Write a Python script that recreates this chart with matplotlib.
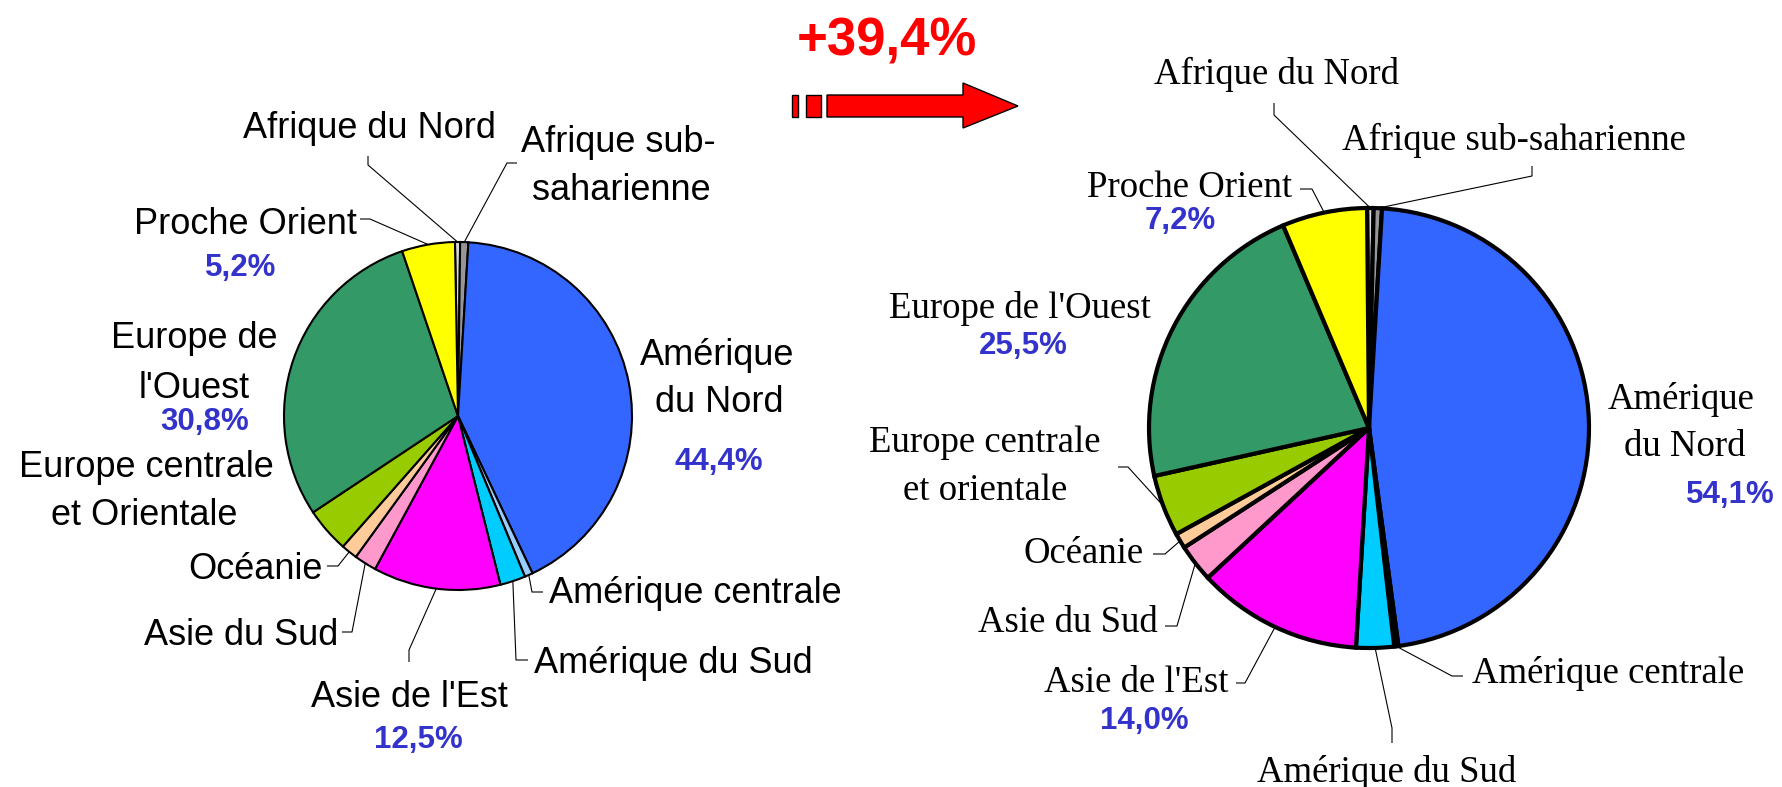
import matplotlib
matplotlib.use("Agg")
import matplotlib.pyplot as plt
import numpy as np
from matplotlib.patches import Rectangle, Polygon

# slices, clockwise from 12 o'clock
regions = ["Afrique du Nord", "Afrique sub-saharienne", "Amérique du Nord",
           "Amérique centrale", "Amérique du Sud", "Asie de l'Est", "Asie du Sud",
           "Océanie", "Europe centrale et orientale", "Europe de l'Ouest", "Proche Orient"]
colors = ["#D9D9D9", "#969696", "#3366FF", "#99CCFF", "#00CCFF", "#FF00FF",
          "#FF99CC", "#FFCC99", "#99CC00", "#339966", "#FFFF00"]
before = [0.5, 0.8, 44.4, 0.8, 2.5, 12.5, 2.2, 1.6, 4.4, 30.8, 5.2]
after = [0.55, 0.7, 54.1, 0.35, 3.2, 14.0, 3.2, 1.3, 5.2, 25.5, 7.2]
pct_before = {2: "44,4%", 5: "12,5%", 9: "30,8%", 10: "5,2%"}
pct_after = {2: "54,1%", 5: "14,0%", 9: "25,5%", 10: "7,2%"}
growth = "+39,4%"

W, H = 1782, 787
BLUE = "#3333CC"


def py(y):
    # pixel row (from top) -> data y
    return H - y


fig = plt.figure(figsize=(W / 100, H / 100), dpi=100)
ax = fig.add_axes([0, 0, 1, 1])

wl, _ = ax.pie(before, colors=colors, startangle=91, counterclock=False,
               center=(458, py(416)), radius=174,
               wedgeprops=dict(edgecolor="black", linewidth=1.5))
wr, _ = ax.pie(after, colors=colors, startangle=90.5, counterclock=False,
               center=(1369, py(428)), radius=220,
               wedgeprops=dict(edgecolor="black", linewidth=3))

ax.set_xlim(0, W)
ax.set_ylim(0, H)
ax.axis("off")


def leader(wedge, pts):
    th = np.deg2rad((wedge.theta1 + wedge.theta2) / 2)
    cx, cy = wedge.center
    xs = [p[0] for p in pts] + [cx + wedge.r * np.cos(th)]
    ys = [py(p[1]) for p in pts] + [cy + wedge.r * np.sin(th)]
    ax.plot(xs, ys, color="black", lw=0.8, solid_capstyle="butt")


def label(s, x, y, ha="center", serif=False):
    fam = "Liberation Serif" if serif else "Liberation Sans"
    ax.text(x, py(y), s, ha=ha, va="baseline", family=fam,
            fontsize=26.5 if serif else 26, color="black")


def pct(s, x, y):
    ax.text(x, py(y), s, ha="center", va="baseline", family="Liberation Sans",
            fontweight="bold", fontsize=22.5, color=BLUE)


# left pie labels
label("Afrique du Nord", 369, 138)
leader(wl[0], [(368, 156), (368, 165)])
label("Afrique sub-", 618, 152)
label("saharienne", 621, 200)
leader(wl[1], [(517, 163), (507, 163)])
label("Amérique", 717, 365)
label("du Nord", 719, 412)
pct(pct_before[2], 719, 470)
label("Amérique centrale", 549, 603, ha="left")
leader(wl[3], [(543, 592), (532, 592)])
label("Amérique du Sud", 534, 673, ha="left")
leader(wl[4], [(528, 660), (516, 660)])
label("Asie de l'Est", 409, 707)
pct(pct_before[5], 418, 748)
leader(wl[5], [(409, 662), (409, 650)])
label("Asie du Sud", 338, 645, ha="right")
leader(wl[6], [(342, 632), (352, 632)])
label("Océanie", 323, 579, ha="right")
leader(wl[7], [(327, 566), (338, 566)])
label("Europe centrale", 146, 477)
label("et Orientale", 144, 525)
label("Europe de", 194, 348)
label("l'Ouest", 194, 398)
pct(pct_before[9], 205, 430)
label("Proche Orient", 357, 234, ha="right")
pct(pct_before[10], 241, 276)
leader(wl[10], [(360, 219), (370, 219)])

# right pie labels
label("Afrique du Nord", 1276, 84, serif=True)
leader(wr[0], [(1274, 103), (1274, 115)])
label("Afrique sub-saharienne", 1342, 150, ha="left", serif=True)
leader(wr[1], [(1532, 166), (1532, 176)])
label("Amérique", 1681, 409, serif=True)
label("du Nord", 1685, 456, serif=True)
pct(pct_after[2], 1730, 503)
label("Amérique centrale", 1472, 683, ha="left", serif=True)
leader(wr[3], [(1463, 676), (1452, 676)])
label("Amérique du Sud", 1257, 782, ha="left", serif=True)
leader(wr[4], [(1392, 743), (1392, 728)])
label("Asie de l'Est", 1229, 692, ha="right", serif=True)
pct(pct_after[5], 1144, 729)
leader(wr[5], [(1236, 683), (1245, 683)])
label("Asie du Sud", 1158, 632, ha="right", serif=True)
leader(wr[6], [(1165, 626), (1177, 626)])
label("Océanie", 1144, 563, ha="right", serif=True)
leader(wr[7], [(1153, 554), (1165, 554)])
label("Europe centrale", 985, 452, serif=True)
label("et orientale", 985, 500, serif=True)
leader(wr[8], [(1118, 467), (1128, 467)])
label("Europe de l'Ouest", 1020, 318, serif=True)
pct(pct_after[9], 1023, 354)
label("Proche Orient", 1292, 197, ha="right", serif=True)
pct(pct_after[10], 1180, 229)
leader(wr[10], [(1300, 189), (1312, 189)])

# growth arrow
ax.text(887, py(55), growth, ha="center", va="baseline", family="Liberation Sans",
        fontweight="bold", fontsize=38, color="#FF0000")
for x0, x1 in [(792, 798), (806, 821)]:
    ax.add_patch(Rectangle((x0, py(117)), x1 - x0, 22, facecolor="#FF0000",
                           edgecolor="black", lw=1))
arrow = [(827, 95), (963, 95), (963, 83), (1018, 106), (963, 128), (963, 117), (827, 117)]
ax.add_patch(Polygon([(x, py(y)) for x, y in arrow], closed=True,
                     facecolor="#FF0000", edgecolor="black", lw=1))

fig.savefig("out.png", dpi=100)
